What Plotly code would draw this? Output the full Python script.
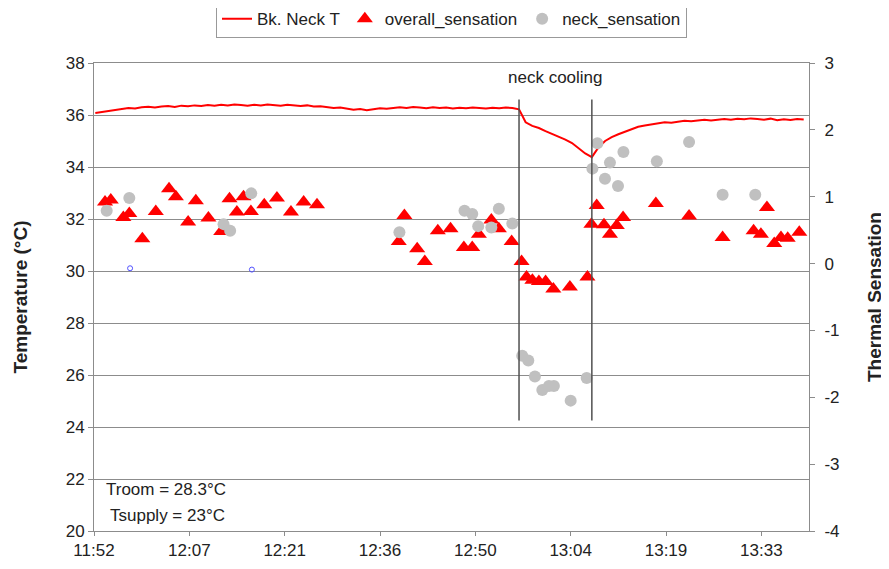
import pandas as pd
import plotly.graph_objects as go

DAY = "2000-01-01 "

# back neck skin temperature, one reading per minute from 11:53
neck_temp_start = "11:53"
neck_temp = [
    36.08, 36.12, 36.15, 36.20, 36.22, 36.27, 36.25, 36.30, 36.32, 36.29,  # 11:53
    36.33, 36.35, 36.31, 36.36, 36.34, 36.37, 36.35, 36.38, 36.36, 36.39,  # 12:03
    36.37, 36.40, 36.38, 36.36, 36.39, 36.37, 36.40, 36.38, 36.36, 36.39,  # 12:13
    36.37, 36.35, 36.37, 36.33, 36.34, 36.30, 36.27, 36.29, 36.24, 36.20,  # 12:23
    36.23, 36.18, 36.22, 36.26, 36.24, 36.28, 36.30, 36.27, 36.31, 36.29,  # 12:33
    36.26, 36.30, 36.27, 36.29, 36.25, 36.28, 36.26, 36.29, 36.27, 36.25,  # 12:43
    36.28, 36.26, 36.29, 36.27, 36.22, 35.72, 35.58, 35.50, 35.38, 35.28,  # 12:53
    35.18, 35.05, 34.92, 34.72, 34.52, 34.38, 34.75, 35.00, 35.15, 35.26,  # 13:03
    35.36, 35.46, 35.55, 35.60, 35.64, 35.68, 35.72, 35.70, 35.75, 35.78,  # 13:13
    35.76, 35.80, 35.82, 35.79, 35.83, 35.85, 35.82, 35.86, 35.84, 35.87,  # 13:23
    35.85, 35.82, 35.86, 35.80, 35.84, 35.81, 35.85, 35.83,                # 13:33
]

overall_time = [
    "11:54:28", "11:55:20", "11:57:14", "11:58:08", "12:00:06", "12:02:08",
    "12:04:08", "12:05:10", "12:07:01", "12:08:11", "12:10:05", "12:12:01",
    "12:13:16", "12:14:23", "12:15:23", "12:16:30", "12:18:31", "12:20:26",
    "12:22:33", "12:24:28", "12:26:29",
    "12:38:50", "12:39:41", "12:41:37", "12:42:46", "12:44:44", "12:46:39",
    "12:48:40", "12:49:56", "12:50:56", "12:52:49", "12:53:57", "12:55:53",
    "12:57:23", "12:58:08", "12:59:01", "13:00:00", "13:01:01", "13:02:11",
    "13:04:41", "13:07:20", "13:07:56", "13:08:44", "13:09:50", "13:10:44",
    "13:11:46", "13:12:43", "13:17:40", "13:22:41", "13:27:45", "13:32:26",
    "13:33:32", "13:34:27", "13:35:33", "13:36:34", "13:37:35", "13:39:20",
]
overall_sensation = [
    0.92, 0.95, 0.69, 0.75, 0.37, 0.78,
    1.12, 1.00, 0.62, 0.94, 0.68, 0.48,
    0.97, 0.77, 1.00, 0.78, 0.88, 0.98,
    0.77, 0.92, 0.88,
    0.33, 0.72, 0.22, 0.03, 0.49, 0.52,
    0.24, 0.24, 0.44, 0.65, 0.52, 0.33,
    0.03, -0.20, -0.25, -0.27, -0.27, -0.38,
    -0.35, -0.20, 0.59, 0.87, 0.58, 0.44,
    0.57, 0.69, 0.90, 0.71, 0.39, 0.49,
    0.44, 0.84, 0.30, 0.39, 0.38, 0.47,
]

neck_time = [
    "11:54:43", "11:58:08", "12:12:22", "12:13:22", "12:16:33",
    "12:38:56", "12:48:46", "12:49:56", "12:50:50", "12:52:49", "12:53:57",
    "12:55:59", "12:57:29", "12:58:24", "12:59:24", "13:00:31", "13:01:31",
    "13:02:16", "13:04:48", "13:07:13", "13:08:05", "13:08:50", "13:09:59",
    "13:10:44", "13:11:57", "13:12:46", "13:17:49", "13:22:41", "13:27:45",
    "13:32:41",
]
neck_sensation = [
    0.79, 0.98, 0.59, 0.49, 1.05,
    0.47, 0.79, 0.74, 0.56, 0.54, 0.82,
    0.60, -1.38, -1.45, -1.69, -1.89, -1.83,
    -1.83, -2.05, -1.71, 1.42, 1.80, 1.27,
    1.51, 1.16, 1.67, 1.53, 1.82, 1.03,
    1.03,
]

# two stray points drawn small and blue in the original
stray_time = ["11:58:15", "12:16:39"]
stray_value = [-0.07, -0.09]

cooling_period = ["12:57:00", "13:08:00"]

x_range = ["11:52:48", "13:40:48"]
x_tickvals = ["11:52:48", "12:07:12", "12:21:36", "12:36:00",
              "12:50:24", "13:04:48", "13:19:12", "13:33:36"]
x_ticktext = ["11:52", "12:07", "12:21", "12:36", "12:50", "13:04", "13:19", "13:33"]
y2_tickvals = [3, 2, 1, 0, -1, -2, -3, -4]
y2_ticktext = ["3", "2", "1", "0", "-1", "-2", "-3", "-4"]

FONT = "Liberation Sans, Arial, sans-serif"
GRID = "#8c8c8c"

line_times = pd.date_range(DAY + neck_temp_start, periods=len(neck_temp), freq="min")

fig = go.Figure()

fig.add_trace(go.Scatter(
    x=line_times, y=neck_temp, name="Bk. Neck T",
    mode="lines", line=dict(color="#ff0000", width=2),
))
fig.add_trace(go.Scatter(
    x=[DAY + t for t in overall_time], y=overall_sensation,
    name="overall_sensation", yaxis="y2", mode="markers",
    marker=dict(symbol="triangle-up", size=14, color="#ff0000"),
))
fig.add_trace(go.Scatter(
    x=[DAY + t for t in neck_time], y=neck_sensation,
    name="neck_sensation", yaxis="y2", mode="markers",
    marker=dict(symbol="circle", size=12, color="#c0c0c0"),
))
fig.add_trace(go.Scatter(
    x=[DAY + t for t in stray_time], y=stray_value,
    yaxis="y2", mode="markers", showlegend=False,
    marker=dict(symbol="circle-open", size=5, color="#5050ff",
                line=dict(width=1)),
))

# cooling start / end markers
for t in cooling_period:
    fig.add_shape(type="line", xref="x", yref="y",
                  x0=DAY + t, x1=DAY + t, y0=24.25, y1=36.6,
                  line=dict(color="#505050", width=1.5))

fig.add_annotation(
    x=pd.Timestamp(DAY + cooling_period[0])
    + (pd.Timestamp(DAY + cooling_period[1]) - pd.Timestamp(DAY + cooling_period[0])) / 2,
    y=37.45, xref="x", yref="y", text="neck cooling", showarrow=False,
    font=dict(size=17, color="#222222"),
)
fig.add_annotation(x=0.014, y=0.088, xref="paper", yref="paper",
                   xanchor="left", yanchor="middle", showarrow=False,
                   text="Troom = 28.3°C", font=dict(size=17, color="#222222"))
fig.add_annotation(x=0.019, y=0.034, xref="paper", yref="paper",
                   xanchor="left", yanchor="middle", showarrow=False,
                   text="Tsupply = 23°C", font=dict(size=17, color="#222222"))

# the page body adds an 8px offset, so the figure is sized to fit inside the window
fig.update_layout(
    width=881, height=561,
    margin=dict(l=86, r=80, t=55, b=38, autoexpand=False),
    plot_bgcolor="white", paper_bgcolor="white",
    font=dict(family=FONT, size=17, color="#222222"),
    showlegend=True,
    legend=dict(orientation="h", x=0.5, xanchor="center", y=1.053, yanchor="bottom",
                bordercolor="#999999", borderwidth=1, bgcolor="white",
                font=dict(size=17)),
    xaxis=dict(
        type="date", range=[DAY + x_range[0], DAY + x_range[1]],
        tickvals=[DAY + t for t in x_tickvals], ticktext=x_ticktext,
        showgrid=False, showline=True, linecolor=GRID, mirror=True,
        ticks="outside", ticklen=4, tickcolor=GRID, zeroline=False,
        automargin=False,
    ),
    yaxis=dict(
        range=[20, 38], dtick=2, showgrid=True, gridcolor=GRID, gridwidth=1,
        showline=True, linecolor=GRID, ticks="outside", ticklen=5, tickcolor=GRID,
        zeroline=False, automargin=False,
        title=dict(text="<b>Temperature (°C)</b>", font=dict(size=19), standoff=33),
    ),
    yaxis2=dict(
        overlaying="y", side="right", range=[-4, 3],
        tickvals=y2_tickvals, ticktext=y2_ticktext,
        showgrid=False, showline=True, linecolor=GRID,
        ticks="outside", ticklen=5, tickcolor=GRID, zeroline=False,
        ticklabelstandoff=6, automargin=False,
        title=dict(text="<b>Thermal Sensation</b>", font=dict(size=19), standoff=29),
    ),
)

fig.write_html("out.html")
